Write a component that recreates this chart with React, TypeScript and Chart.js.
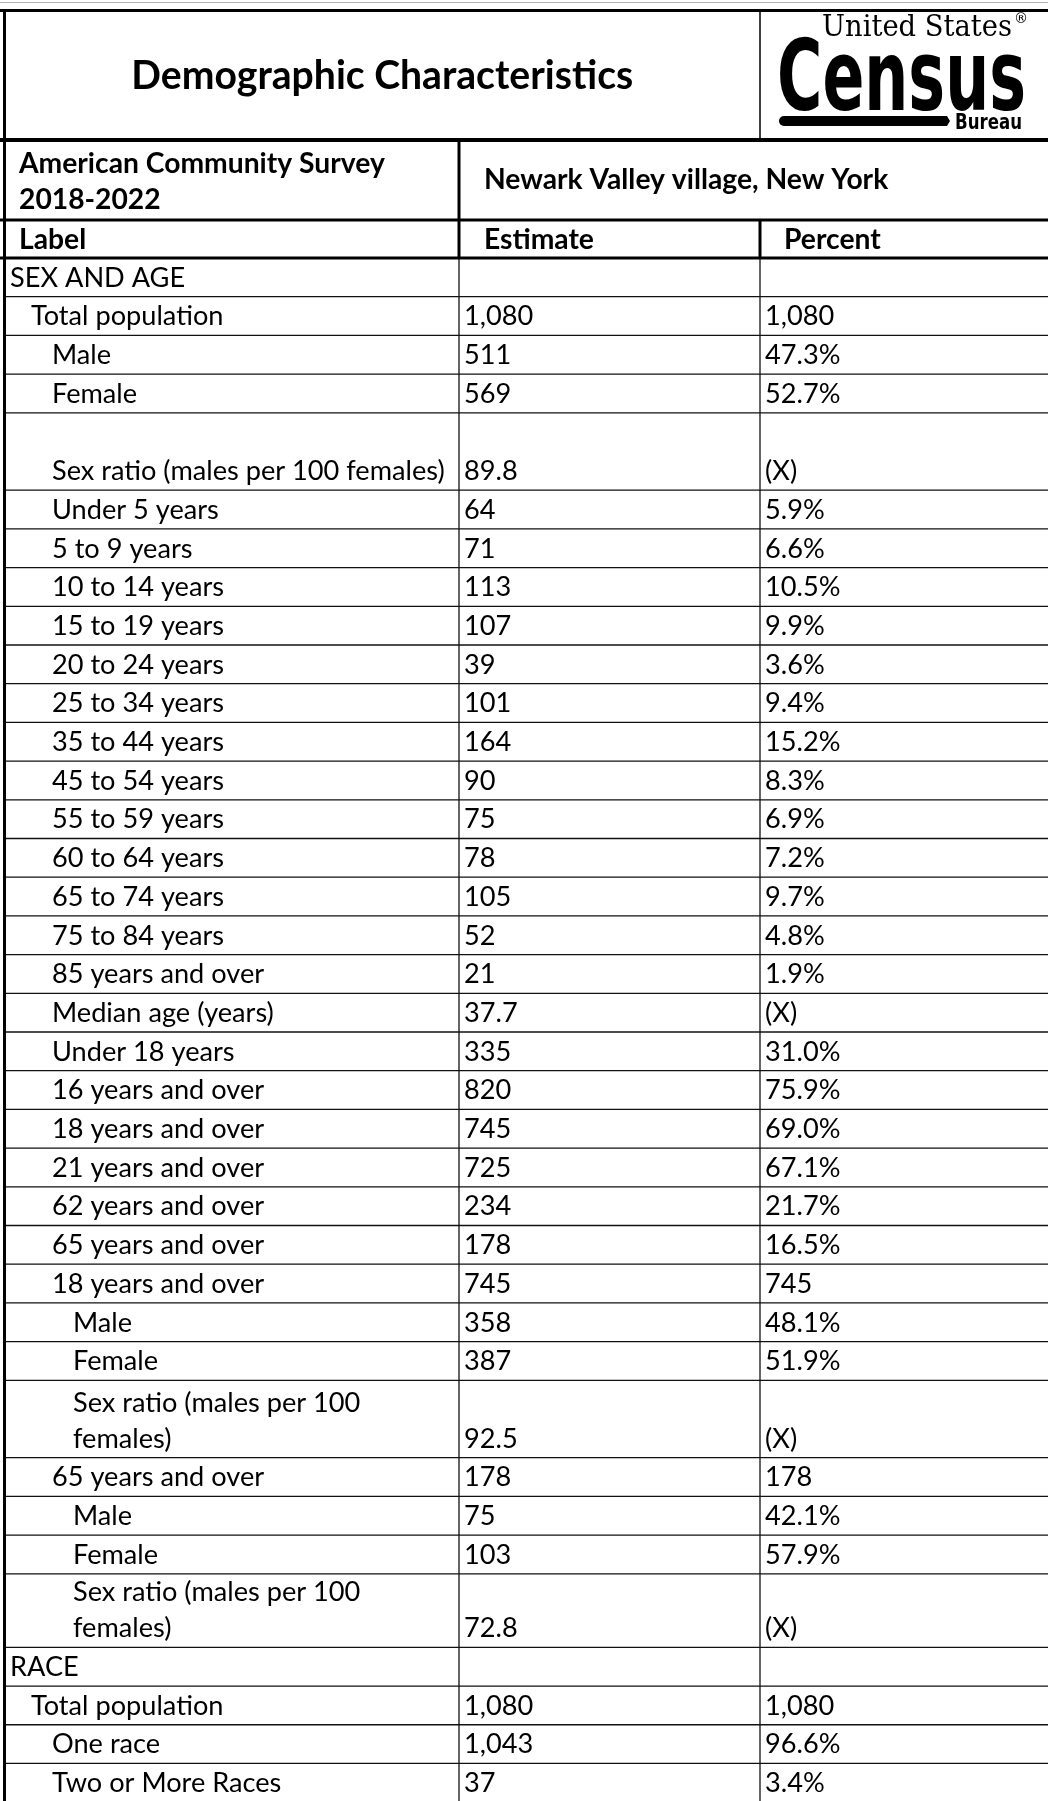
import React, { useEffect, useRef } from "react";
import { Chart, registerables } from "chart.js";

Chart.register(...registerables);

// ---------------- data ----------------
const TITLE = "Demographic Characteristics";
const SURVEY_LINES = ["American Community Survey", "2018-2022"];
const GEOGRAPHY = "Newark Valley village, New York";
const COLUMN_HEADERS = ["Label", "Estimate", "Percent"];
const LOGO_TOP = "United States";
const LOGO_MAIN = "Census";
const LOGO_SUB = "Bureau";

const rowLabels = [
  "SEX AND AGE",
  "Total population",
  "Male",
  "Female",
  "Sex ratio (males per 100 females)",
  "Under 5 years",
  "5 to 9 years",
  "10 to 14 years",
  "15 to 19 years",
  "20 to 24 years",
  "25 to 34 years",
  "35 to 44 years",
  "45 to 54 years",
  "55 to 59 years",
  "60 to 64 years",
  "65 to 74 years",
  "75 to 84 years",
  "85 years and over",
  "Median age (years)",
  "Under 18 years",
  "16 years and over",
  "18 years and over",
  "21 years and over",
  "62 years and over",
  "65 years and over",
  "18 years and over",
  "Male",
  "Female",
  "Sex ratio (males per 100\nfemales)",
  "65 years and over",
  "Male",
  "Female",
  "Sex ratio (males per 100\nfemales)",
  "RACE",
  "Total population",
  "One race",
  "Two or More Races",
];

const rowIndents = [
  0, 1, 2, 2, 2, 2, 2, 2, 2, 2, 2, 2, 2, 2, 2, 2, 2, 2, 2, 2, 2, 2, 2, 2, 2,
  2, 3, 3, 3, 2, 3, 3, 3, 0, 1, 2, 2,
];

const estimates = [
  "", "1,080", "511", "569", "89.8", "64", "71", "113", "107", "39", "101",
  "164", "90", "75", "78", "105", "52", "21", "37.7", "335", "820", "745",
  "725", "234", "178", "745", "358", "387", "92.5", "178", "75", "103", "72.8",
  "", "1,080", "1,043", "37",
];

const percents = [
  "", "1,080", "47.3%", "52.7%", "(X)", "5.9%", "6.6%", "10.5%", "9.9%",
  "3.6%", "9.4%", "15.2%", "8.3%", "6.9%", "7.2%", "9.7%", "4.8%", "1.9%",
  "(X)", "31.0%", "75.9%", "69.0%", "67.1%", "21.7%", "16.5%", "745", "48.1%",
  "51.9%", "(X)", "178", "42.1%", "57.9%", "(X)", "", "1,080", "96.6%", "3.4%",
];

// row heights, in standard-row units
const rowHeights = [
  1, 1, 1, 1, 2, 1, 1, 1, 1, 1, 1, 1, 1, 1, 1, 1, 1, 1, 1, 1, 1, 1, 1, 1, 1,
  1, 1, 1, 2, 1, 1, 1, 1.9, 1, 1, 1, 1,
];

// ---------------- layout / style ----------------
const W = 1048;
const H = 1801;
const TABLE_LEFT = 4.5;
const COL_EDGES = [TABLE_LEFT, 459, 760];
const TOP_Y = 10.5;
const TITLE_BOTTOM = 140;
const SURVEY_BOTTOM = 220;
const HEADER_BOTTOM = 258;
const ROW_H = 38.7;
const LINE_GAP = 36;
const INDENT_X = [10, 31, 52, 73];
const EST_X = 464;
const PCT_X = 765;
const FONT = "Lato, 'Open Sans', sans-serif";

function fitSize(ctx: CanvasRenderingContext2D, weight: string, family: string, text: string, target: number) {
  ctx.font = `${weight} 100px ${family}`;
  const w = ctx.measureText(text).width;
  return (100 * target) / w;
}

const tablePlugin = {
  id: "censusTable",
  beforeDraw(chart: any) {
    const { ctx } = chart;
    ctx.save();
    ctx.fillStyle = "#ffffff";
    ctx.fillRect(0, 0, chart.width, chart.height);
    ctx.restore();
  },
  afterDraw(chart: any) {
    const { ctx } = chart;
    const sx = chart.scales.x;
    const sy = chart.scales.y;
    const X = (v: number) => sx.getPixelForValue(v);
    const Y = (v: number) => sy.getPixelForValue(v);

    const hline = (x0: number, x1: number, y: number, lw: number, color = "#000") => {
      ctx.beginPath();
      ctx.strokeStyle = color;
      ctx.lineWidth = lw;
      ctx.moveTo(X(x0), Y(y));
      ctx.lineTo(X(x1), Y(y));
      ctx.stroke();
    };
    const vline = (x: number, y0: number, y1: number, lw: number, color = "#000") => {
      ctx.beginPath();
      ctx.strokeStyle = color;
      ctx.lineWidth = lw;
      ctx.moveTo(X(x), Y(y0));
      ctx.lineTo(X(x), Y(y1));
      ctx.stroke();
    };

    ctx.save();
    ctx.fillStyle = "#000";
    ctx.textBaseline = "middle";
    ctx.textAlign = "left";

    const bodySize = fitSize(ctx, "normal", FONT, "Sex ratio (males per 100 females)", 393);
    const headSize = fitSize(ctx, "bold", FONT, SURVEY_LINES[0], 366);
    const titleSize = fitSize(ctx, "bold", FONT, TITLE, 502);

    // ---- data rows ----
    let top = HEADER_BOTTOM;
    ctx.font = `normal ${bodySize}px ${FONT}`;
    for (let i = 0; i < rowLabels.length; i++) {
      const bottom = top + rowHeights[i] * ROW_H;
      const parts = rowLabels[i].split("\n");
      const yc = bottom - ROW_H / 2 + 0.5;
      parts.forEach((p, j) => {
        const y = yc - (parts.length - 1 - j) * LINE_GAP;
        ctx.fillText(p, X(INDENT_X[rowIndents[i]]), Y(y));
      });
      if (estimates[i]) ctx.fillText(estimates[i], X(EST_X), Y(yc));
      if (percents[i]) ctx.fillText(percents[i], X(PCT_X), Y(yc));
      hline(TABLE_LEFT, W, bottom, 1.3, "#111");
      top = bottom;
    }
    vline(COL_EDGES[1], HEADER_BOTTOM, H, 1.3, "#111");
    vline(COL_EDGES[2], HEADER_BOTTOM, H, 1.3, "#111");

    // ---- title block ----
    hline(0, W, 2.5, 1, "#b4b4b4");
    ctx.font = `bold ${titleSize}px ${FONT}`;
    ctx.textAlign = "center";
    ctx.fillText(TITLE, X((COL_EDGES[0] + COL_EDGES[2]) / 2), Y((TOP_Y + TITLE_BOTTOM) / 2 + 1));
    ctx.textAlign = "left";
    vline(COL_EDGES[2], TOP_Y, TITLE_BOTTOM, 1.5);

    // ---- logo ----
    ctx.textBaseline = "alphabetic";
    // United States
    ctx.font = `normal 30px 'DejaVu Serif', serif`;
    const usW = ctx.measureText(LOGO_TOP).width;
    ctx.save();
    ctx.translate(X(822), Y(36));
    ctx.scale(190 / usW, 1);
    ctx.fillText(LOGO_TOP, 0, 0);
    ctx.restore();
    ctx.font = `normal 14px 'DejaVu Sans', sans-serif`;
    ctx.fillText("\u00AE", X(1014), Y(23));
    // Census
    ctx.font = `bold 98px 'DejaVu Sans', sans-serif`;
    const cW = ctx.measureText(LOGO_MAIN).width;
    ctx.save();
    ctx.translate(X(777), Y(110));
    ctx.scale(249 / cW, 1);
    ctx.fillText(LOGO_MAIN, 0, 0);
    ctx.restore();
    // bar
    ctx.beginPath();
    const by = Y(121);
    const bx0 = X(779);
    const bx1 = X(950);
    ctx.moveTo(bx0 + 5, by - 5);
    ctx.lineTo(bx1 - 3, by - 5);
    ctx.lineTo(bx1, by);
    ctx.lineTo(bx1 - 3, by + 5);
    ctx.lineTo(bx0 + 5, by + 5);
    ctx.arc(bx0 + 5, by, 5, Math.PI / 2, (3 * Math.PI) / 2);
    ctx.closePath();
    ctx.fill();
    ctx.font = `bold 21px 'DejaVu Sans', sans-serif`;
    const buW = ctx.measureText(LOGO_SUB).width;
    ctx.save();
    ctx.translate(X(955), Y(129));
    ctx.scale(67 / buW, 1);
    ctx.fillText(LOGO_SUB, 0, 0);
    ctx.restore();
    ctx.textBaseline = "middle";

    hline(0, W, TOP_Y, 3);
    hline(0, W, TITLE_BOTTOM, 4);

    // ---- survey / geography row ----
    ctx.font = `bold ${headSize}px ${FONT}`;
    ctx.fillText(SURVEY_LINES[0], X(19), Y(SURVEY_BOTTOM - 20 - LINE_GAP));
    ctx.fillText(SURVEY_LINES[1], X(19), Y(SURVEY_BOTTOM - 20));
    ctx.fillText(GEOGRAPHY, X(484), Y((TITLE_BOTTOM + SURVEY_BOTTOM) / 2));
    vline(COL_EDGES[1], TITLE_BOTTOM, HEADER_BOTTOM, 3);
    hline(0, W, SURVEY_BOTTOM, 3);

    // ---- column headers ----
    const hy = (SURVEY_BOTTOM + HEADER_BOTTOM) / 2 + 0.5;
    ctx.fillText(COLUMN_HEADERS[0], X(19), Y(hy));
    ctx.fillText(COLUMN_HEADERS[1], X(484), Y(hy));
    ctx.fillText(COLUMN_HEADERS[2], X(784), Y(hy));
    vline(COL_EDGES[2], SURVEY_BOTTOM, HEADER_BOTTOM, 3);
    hline(0, W, HEADER_BOTTOM, 3);

    // outer left border
    vline(TABLE_LEFT, TOP_Y - 1.5, H, 3);
    ctx.restore();
  },
};

export default function App() {
  const ref = useRef<HTMLCanvasElement | null>(null);
  useEffect(() => {
    if (!ref.current) return;
    const chart = new Chart(ref.current, {
      type: "scatter",
      data: { datasets: [{ data: [], pointRadius: 0 }] },
      options: {
        animation: false,
        responsive: false,
        maintainAspectRatio: false,
        devicePixelRatio: 1,
        layout: { padding: 0 },
        plugins: { legend: { display: false }, tooltip: { enabled: false } },
        scales: {
          x: { type: "linear", min: 0, max: W, display: false },
          y: { type: "linear", min: 0, max: H, reverse: true, display: false },
        },
      },
      plugins: [tablePlugin],
    });
    return () => chart.destroy();
  }, []);
  return (
    <div style={{ position: "absolute", left: 0, top: 0, width: W, height: H, background: "#fff" }}>
      <canvas ref={ref} width={W} height={H} style={{ display: "block", width: W, height: H }} />
    </div>
  );
}
